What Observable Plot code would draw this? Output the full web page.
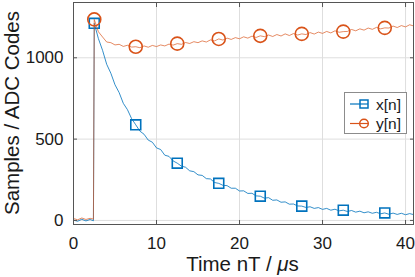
<!DOCTYPE html>
<html><head><meta charset="utf-8">
<script src="https://cdn.jsdelivr.net/npm/d3@7"></script>
<script src="https://cdn.jsdelivr.net/npm/@observablehq/plot@0.6"></script>
<style>
body{margin:0;background:#fff;}
#wrap{position:relative;width:415px;height:277px;font-family:"Liberation Sans",Arial,sans-serif;color:#1a1a1a;}
#wrap svg{display:block;}
.lab{position:absolute;font-size:20.5px;line-height:22px;text-align:center;white-space:nowrap;}
#legend{position:absolute;left:344px;top:92px;width:61px;height:40px;background:#fff;border:1px solid #8c8c8c;}
</style></head><body><div id="wrap"></div>
<script>
const times = [0,0.5,1,1.5,2,2.4,2.5,3,3.5,4,4.5,5,5.5,6,6.5,7,7.5,8,8.5,9,9.5,10,10.5,11,11.5,12,12.5,13,13.5,14,14.5,15,15.5,16,16.5,17,17.5,18,18.5,19,19.5,20,20.5,21,21.5,22,22.5,23,23.5,24,24.5,25,25.5,26,26.5,27,27.5,28,28.5,29,29.5,30,30.5,31,31.5,32,32.5,33,33.5,34,34.5,35,35.5,36,36.5,37,37.5,38,38.5,39,39.5,40,40.5,40.96];
const xn = [2,-5,7,-3,6,-2,1212,1118,1046,960,905,834,786,720,681,626,588,549,530,494,481,446,436,401,394,366,352,334,327,305,300,280,277,257,255,233,228,216,214,198,198,181,182,166,167,151,149,137,140,124,126,112,114,100,101,89,88,80,84,74,79,68,74,63,69,59,63,55,61,51,57,47,53,44,50,41,46,38,45,37,44,35,42,36];
const yn = [12,4,15,6,13,8,1236,1160,1128,1097,1093,1079,1083,1070,1077,1066,1068,1062,1073,1065,1076,1069,1079,1073,1084,1078,1087,1083,1094,1088,1099,1093,1104,1097,1110,1104,1116,1109,1121,1113,1124,1117,1129,1121,1133,1125,1135,1130,1140,1131,1143,1134,1147,1137,1149,1140,1147,1143,1155,1146,1158,1150,1162,1153,1166,1157,1161,1162,1174,1166,1178,1170,1183,1175,1187,1178,1184,1183,1195,1186,1198,1190,1203,1196];
const markerTimes = [2.5,7.5,12.5,17.5,22.5,27.5,32.5,37.5];
const seriesNames = ["x[n]","y[n]"];
const colors = ["#0072BD","#D95319"];
const xTicks = [0,10,20,30,40];
const yTicks = [0,500,1000];
const xLabel = "Time nT / ";
const yLabel = "Samples / ADC Codes";

const xRows = times.map((t,i)=>({t, v:xn[i]}));
const yRows = times.map((t,i)=>({t, v:yn[i]}));
const xMarks = xRows.filter(d=>markerTimes.includes(d.t));
const yMarks = yRows.filter(d=>markerTimes.includes(d.t));

const chart = Plot.plot({
  width:415, height:277,
  marginLeft:73, marginRight:2, marginTop:2, marginBottom:53,
  style:{fontFamily:"'Liberation Sans', Arial, sans-serif", fontSize:"17px", color:"#1a1a1a", background:"#fff"},
  x:{domain:[0,40.96]},
  y:{domain:[-25,1340]},
  marks:[
    Plot.gridX(xTicks,{stroke:"#dedede", strokeOpacity:1}),
    Plot.gridY(yTicks,{stroke:"#dedede", strokeOpacity:1}),
    Plot.lineY(xRows,{x:"t", y:"v", stroke:colors[0], strokeWidth:0.8}),
    Plot.dot(xMarks,{x:"t", y:"v", symbol:"square", r:5.6, stroke:colors[0], fill:"none", strokeWidth:1.6}),
    Plot.lineY(yRows,{x:"t", y:"v", stroke:colors[1], strokeWidth:0.8, strokeOpacity:0.85}),
    Plot.dot(yMarks,{x:"t", y:"v", symbol:"circle", r:6.5, stroke:colors[1], fill:"none", strokeWidth:1.6}),
    Plot.axisX(xTicks,{anchor:"bottom", tickSize:-4, tickPadding:16, label:null, fontSize:17, stroke:"#555", tickFormat:d3.format("d")}),
    Plot.axisX(xTicks,{anchor:"top", tickSize:-4, tickFormat:()=>"", label:null, stroke:"#555"}),
    Plot.axisY(yTicks,{anchor:"left", tickSize:-4, tickPadding:14, label:null, fontSize:17, stroke:"#555", tickFormat:d3.format("d")}),
    Plot.axisY(yTicks,{anchor:"right", tickSize:-4, tickFormat:()=>"", label:null, stroke:"#555"}),
    Plot.frame({stroke:"#555"})
  ]
});
const wrap = document.getElementById("wrap");
wrap.appendChild(chart);

const xl = document.createElement("div");
xl.className = "lab";
xl.style.left = "73px"; xl.style.width = "339px"; xl.style.top = "253px";
xl.innerHTML = xLabel + "<i>\u03bc</i>s";
wrap.appendChild(xl);

const yl = document.createElement("div");
yl.className = "lab";
yl.style.width = "300px"; yl.style.height = "22px";
yl.style.left = (12-150)+"px"; yl.style.top = (113-11)+"px";
yl.style.transform = "rotate(-90deg)";
yl.textContent = yLabel;
wrap.appendChild(yl);

const lg = document.createElement("div");
lg.id = "legend";
const sym = (i)=> i===0
  ? `<rect x="10" y="-4" width="8" height="8" fill="none" stroke="${colors[0]}" stroke-width="1.5"/>`
  : `<circle cx="14" cy="0" r="4.3" fill="none" stroke="${colors[1]}" stroke-width="1.5"/>`;
lg.innerHTML = `<svg width="61" height="40" style="position:absolute;left:0;top:0">` +
  seriesNames.map((n,i)=>`<g transform="translate(5,${11+i*19.5})"><line x1="0" x2="18" y1="0" y2="0" stroke="${colors[i]}" stroke-width="1.2"/>${sym(i)}<text x="26" y="5.5" font-size="15.5" fill="#1a1a1a">${n}</text></g>`).join("") +
  `</svg>`;
wrap.appendChild(lg);
</script></body></html>
